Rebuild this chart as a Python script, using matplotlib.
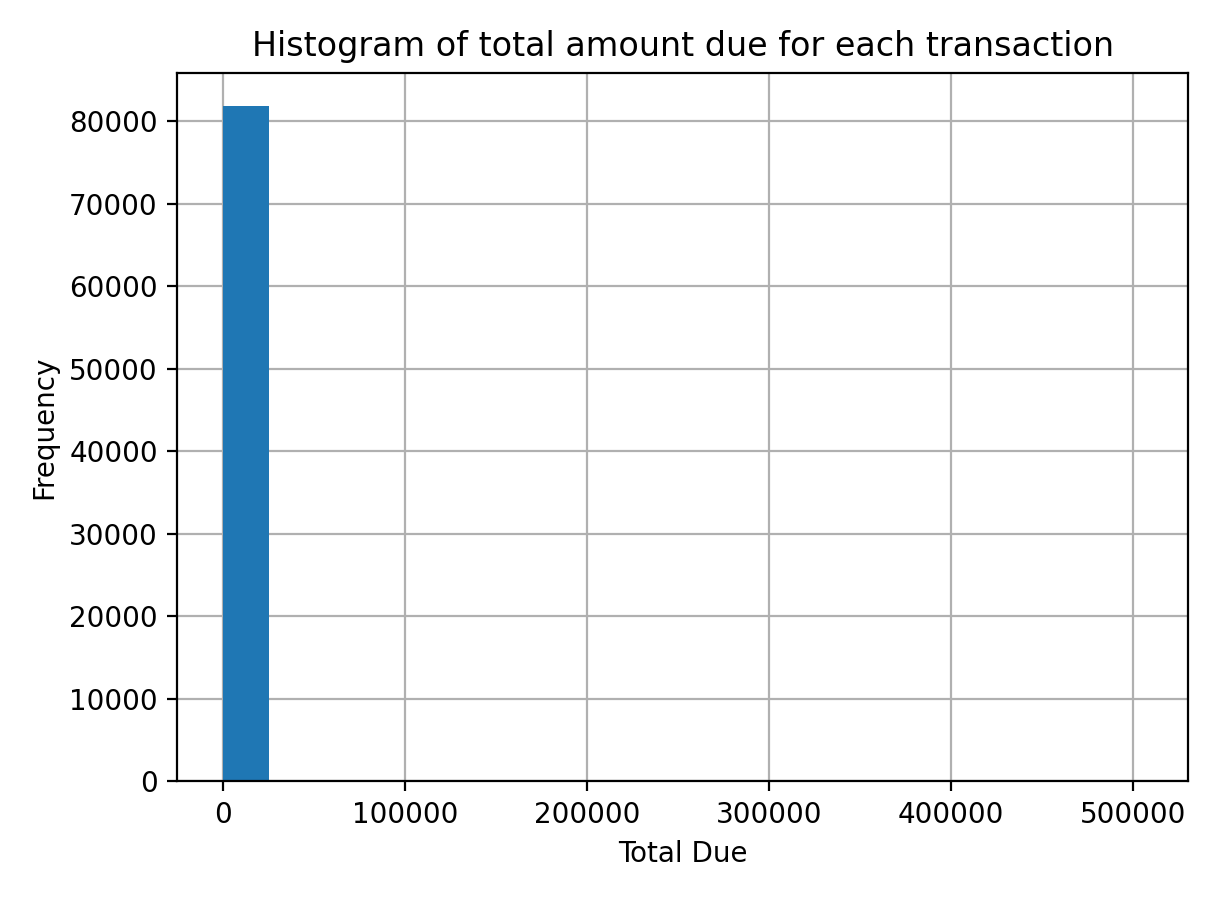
import matplotlib
matplotlib.use("Agg")
import matplotlib.pyplot as plt
import numpy as np

# 20 equal-width bins from 0 to the max total due
max_due = 505000
n_bins = 20
counts = [81820, 60, 18, 8, 4, 3, 2, 1, 1, 0, 1, 0, 0, 1, 0, 0, 0, 0, 0, 1]

edges = np.linspace(0, max_due, n_bins + 1)

fig, ax = plt.subplots(figsize=(6.1, 4.49), dpi=200)
ax.hist(edges[:-1], bins=edges, weights=counts, color="#1f77b4", zorder=2)
ax.grid(True, color="#b0b0b0", linewidth=0.8, zorder=0)
ax.set_axisbelow(True)
ax.set_title("Histogram of total amount due for each transaction")
ax.set_xlabel("Total Due")
ax.set_ylabel("Frequency")
fig.tight_layout()
fig.savefig("out.png", dpi=200)
plt.close(fig)
